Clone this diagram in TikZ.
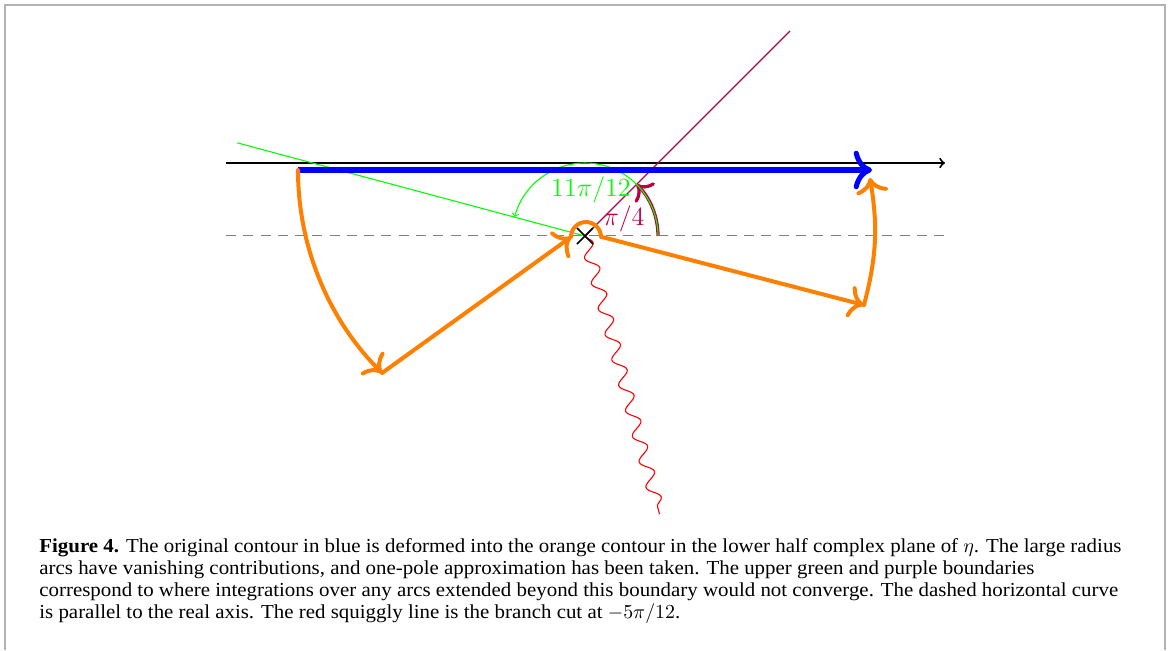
\documentclass[tikz,border=0pt]{standalone}
\usepackage{fontspec}
\setmainfont{Liberation Serif}[FakeStretch=1.055]
\usetikzlibrary{arrows.meta,decorations.pathmorphing,shapes.misc}

\begin{document}
\begin{tikzpicture}[
    x=0.55pt, y=0.55pt,
    >={To[scale=1.3]},
    frameline/.style={draw=gray!60, line width=0.8pt},
    realaxis/.style={-to, line width=1.1pt},
    original/.style={->, blue, line width=2.8pt},
    contour/.style={orange, line width=2.2pt, line cap=round, line join=round},
    parallel/.style={gray, line width=0.55pt, dash pattern=on 5.5pt off 4pt},
    greenbound/.style={green, line width=0.6pt},
    purplebound/.style={purple, line width=0.6pt},
    branchcut/.style={red, line width=0.6pt, decorate, decoration={snake, amplitude=3.4pt, segment length=14.5pt}},
    anglelabel/.style={font=\fontsize{14.4}{17}\selectfont, inner sep=0pt},
    captionline/.style={anchor=base west, inner sep=0pt, text height=8pt, text depth=2.5pt, font=\fontsize{10.9}{12.1}\selectfont}
  ]
    \useasboundingbox (0,0) rectangle (1170,-650);
    % frame
    \coordinate (fbl) at (5,-650);
    \coordinate (ftl) at (5,-5);
    \coordinate (ftr) at (1165,-5);
    \coordinate (fbr) at (1165,-650);
    \draw[frameline] (fbl) -- (ftl) -- (ftr) -- (fbr);

    % points
    \coordinate (origin) at (585,-170);
    \coordinate (pole) at (585,-236);
    \coordinate (axisleft) at (226,-163);
    \coordinate (axisright) at (945,-163);
    \coordinate (blueleft) at (298,-170);
    \coordinate (blueright) at (872,-170);
    \coordinate (dashleft) at (226,-235);
    \coordinate (dashright) at (945,-235);
    \coordinate (lowleft) at (382,-373);
    \coordinate (poleleft) at (571,-237);
    \coordinate (poleright) at (606,-238);
    \coordinate (lowright) at (864,-305);
    \coordinate (rightend) at (870,-178);

    \draw[parallel] (dashleft) -- (dashright);
    \draw[realaxis] (axisleft) -- (axisright);

    % boundaries
    \draw[greenbound] (pole) -- ++(165:360);
    \draw[purplebound] (pole) -- ++(45:290);
    \draw[purple, line width=1.8pt, ->] (pole) ++(0:73) arc[start angle=0, end angle=45, radius=73];
    \draw[greenbound, -to] (pole) ++(0:73) arc[start angle=0, end angle=165, radius=73];
    \node[anglelabel, text=green] (bigangle) at (591,-190) {$11\pi/12$};
    \node[anglelabel, text=purple] (smallangle) at (624,-219) {$\pi/4$};

    % branch cut
    \draw[branchcut] (pole) -- ++(-75:288);

    % contours
    \draw[original] (blueleft) -- (blueright);
    \draw[contour, ->] (blueleft) arc[start angle=180, end angle=225, radius=287];
    \draw[contour, ->] (lowleft) -- (poleleft);
    \draw[contour, ->] (poleleft) arc[start angle=180, end angle=0, radius=15] -- (poleright) -- (lowright);
    \draw[contour, ->] (lowright) to[bend right=12] (rightend);

    \node[draw, cross out, minimum size=8pt, inner sep=0pt, line width=0.8pt] (polemark) at (pole) {};

    % caption
    \node[captionline] (caption1) at (39,-552) {\textbf{Figure 4.} The original contour in blue is deformed into the orange contour in the lower half complex plane of $\eta$. The large radius};
    \node[captionline] (caption2) at (39,-574) {arcs have vanishing contributions, and one-pole approximation has been taken. The upper green and purple boundaries};
    \node[captionline] (caption3) at (39,-596) {correspond to where integrations over any arcs extended beyond this boundary would not converge. The dashed horizontal curve};
    \node[captionline] (caption4) at (39,-618) {is parallel to the real axis. The red squiggly line is the branch cut at $-5\pi/12$.};
  \end{tikzpicture}
\end{document}
